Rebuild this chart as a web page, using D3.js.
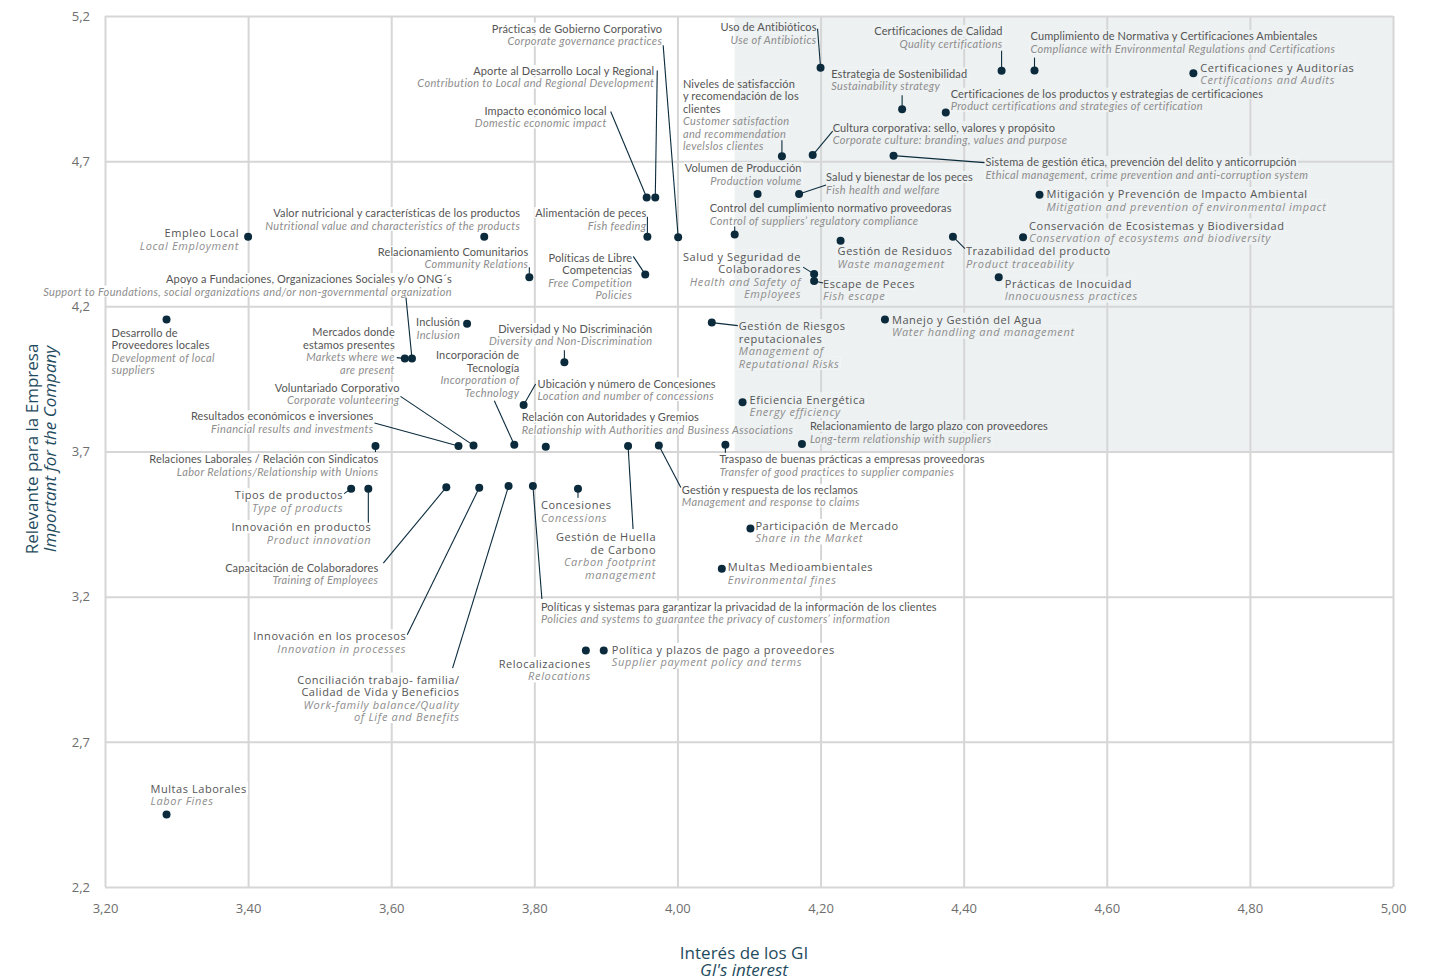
<!DOCTYPE html>
<html>
<head>
<meta charset="utf-8">
<script src="https://cdn.jsdelivr.net/npm/d3@7"></script>
<style>
  body { margin: 0; background: #fff; }
  svg text { font-family: "Open Sans", sans-serif; }
</style>
</head>
<body>
<div id="chart"></div>
<script>
// materiality topics (Spanish / English), interest of stakeholders (x), relevance for the company (y)
const topics = [
  "Empleo Local",
  "Desarrollo de\nProveedores locales",
  "Multas Laborales",
  "Valor nutricional y características de los productos",
  "Relacionamiento Comunitarios",
  "Apoyo a Fundaciones, Organizaciones Sociales y/o ONG´s",
  "Mercados donde\nestamos presentes",
  "Inclusión",
  "Diversidad y No Discriminación",
  "Incorporación de\nTecnología",
  "Ubicación y número de Concesiones",
  "Relación con Autoridades y Gremios",
  "Voluntariado Corporativo",
  "Resultados económicos e inversiones",
  "Relaciones Laborales / Relación con Sindicatos",
  "Tipos de productos",
  "Innovación en productos",
  "Capacitación de Colaboradores",
  "Innovación en los procesos",
  "Conciliación trabajo- familia/\nCalidad de Vida y Beneficios",
  "Políticas y sistemas para garantizar la privacidad de la información de los clientes",
  "Concesiones",
  "Gestión de Huella\nde Carbono",
  "Gestión y respuesta de los reclamos",
  "Traspaso de buenas prácticas a empresas proveedoras",
  "Relocalizaciones",
  "Política y plazos de pago a proveedores",
  "Multas Medioambientales",
  "Participación de Mercado",
  "Relacionamiento de largo plazo con proveedores",
  "Eficiencia Energética",
  "Gestión de Riesgos\nreputacionales",
  "Manejo y Gestión del Agua",
  "Salud y Seguridad de\nColaboradores",
  "Escape de Peces",
  "Gestión de Residuos",
  "Trazabilidad del producto",
  "Prácticas de Inocuidad",
  "Conservación de Ecosistemas y Biodiversidad",
  "Mitigación y Prevención de Impacto Ambiental",
  "Sistema de gestión ética, prevención del delito y anticorrupción",
  "Cultura corporativa: sello, valores y propósito",
  "Niveles de satisfacción\ny recomendación de los\nclientes",
  "Volumen de Producción",
  "Salud y bienestar de los peces",
  "Control del cumplimiento normativo proveedoras",
  "Uso de Antibióticos",
  "Certificaciones de Calidad",
  "Cumplimiento de Normativa y Certificaciones Ambientales",
  "Certificaciones y Auditorías",
  "Estrategia de Sostenibilidad",
  "Certificaciones de los productos y estrategias de certificaciones",
  "Prácticas de Gobierno Corporativo",
  "Aporte al Desarrollo Local y Regional",
  "Impacto económico local",
  "Alimentación de peces",
  "Políticas de Libre\nCompetencias"
];

const topicsEn = [
  "Local Employment",
  "Development of local\nsuppliers",
  "Labor Fines",
  "Nutritional value and characteristics of the products",
  "Community Relations",
  "Support to Foundations, social organizations and/or non-governmental organization",
  "Markets where we\nare present",
  "Inclusion",
  "Diversity and Non-Discrimination",
  "Incorporation of\nTechnology",
  "Location and number of concessions",
  "Relationship with Authorities and Business Associations",
  "Corporate volunteering",
  "Financial results and investments",
  "Labor Relations/Relationship with Unions",
  "Type of products",
  "Product innovation",
  "Training of Employees",
  "Innovation in processes",
  "Work-family balance/Quality\nof Life and Benefits",
  "Policies and systems to guarantee the privacy of customers’ information",
  "Concessions",
  "Carbon footprint\nmanagement",
  "Management and response to claims",
  "Transfer of good practices to supplier companies",
  "Relocations",
  "Supplier payment policy and terms",
  "Environmental fines",
  "Share in the Market",
  "Long-term relationship with suppliers",
  "Energy efficiency",
  "Management of\nReputational Risks",
  "Water handling and management",
  "Health and Safety of\nEmployees",
  "Fish escape",
  "Waste management",
  "Product traceability",
  "Innocuousness practices",
  "Conservation of ecosystems and biodiversity",
  "Mitigation and prevention of environmental impact",
  "Ethical management, crime prevention and anti-corruption system",
  "Corporate culture: branding, values and purpose",
  "Customer satisfaction\nand recommendation\nlevelslos clientes",
  "Production volume",
  "Fish health and welfare",
  "Control of suppliers’ regulatory compliance",
  "Use of Antibiotics",
  "Quality certifications",
  "Compliance with Environmental Regulations and Certifications",
  "Certifications and Audits",
  "Sustainability strategy",
  "Product certifications and strategies of certification",
  "Corporate governance practices",
  "Contribution to Local and Regional Development",
  "Domestic economic impact",
  "Fish feeding",
  "Free Competition\nPolicies"
];

const interest = [
  3.40, 3.286, 3.286, 3.73, 3.793, 3.629, 3.619, 3.706, 3.842, 3.772,
  3.785, 3.816, 3.715, 3.694, 3.578, 3.544, 3.568, 3.677, 3.723, 3.764,
  3.798, 3.861, 3.931, 3.974, 4.067, 3.872, 3.897, 4.062, 4.102, 4.174,
  4.091, 4.048, 4.29, 4.191, 4.191, 4.228, 4.385, 4.449, 4.483, 4.506,
  4.302, 4.189, 4.146, 4.112, 4.17, 4.08, 4.20, 4.453, 4.499, 4.721,
  4.314, 4.375, 4.001, 3.969, 3.957, 3.958, 3.955
];

const relevance = [
  4.44, 4.155, 2.45, 4.44, 4.30, 4.02, 4.02, 4.14, 4.007, 3.723,
  3.86, 3.716, 3.721, 3.719, 3.719, 3.572, 3.572, 3.577, 3.575, 3.581,
  3.581, 3.572, 3.719, 3.721, 3.723, 3.015, 3.015, 3.296, 3.435, 3.726,
  3.87, 4.144, 4.155, 4.311, 4.287, 4.426, 4.44, 4.30, 4.438, 4.584,
  4.719, 4.721, 4.717, 4.587, 4.587, 4.447, 5.022, 5.011, 5.012, 5.003,
  4.879, 4.868, 4.438, 4.575, 4.575, 4.44, 4.31
];

const xTicks = [3.2, 3.4, 3.6, 3.8, 4.0, 4.2, 4.4, 4.6, 4.8, 5.0];
const xTickLabels = ["3,20", "3,40", "3,60", "3,80", "4,00", "4,20", "4,40", "4,60", "4,80", "5,00"];
const yTicks = [2.2, 2.7, 3.2, 3.7, 4.2, 4.7, 5.2];
const yTickLabels = ["2,2", "2,7", "3,2", "3,7", "4,2", "4,7", "5,2"];

// priority quadrant (shaded): interest >= 4.08 and relevance >= 3.7
const priorityInterest = 4.08;
const priorityRelevance = 3.7;

// label placement relative to each dot: anchor, dx, dy, leader end, wide font
const labelLayout = [
  ["e", -9, -4, null, 1], ["s", -55, 13, null, 0], ["s", -16, -26, null, 1],
  ["e", 36, -24, null, 0], ["e", -1, -26, [0, -10], 0], ["e", 40, -80, [-6, -61], 0],
  ["e", -10, -27, [-8, -1], 0], ["e", -7, -2, null, 0], ["e", 88, -34, [0, -12], 0],
  ["e", 5, -90, [-20, -44], 0], ["s", 14, -22, [12, -21], 0], ["s", -24, -30, null, 0],
  ["e", -74, -58, [-73, -49], 0], ["e", -85, -30, [-84, -23], 0], ["e", 3, 13, [0, 6], 0],
  ["e", -8, 6, [-7, 5], 1], ["e", 3, 38, [0, 34], 1], ["e", -68, 80, [-63, 76], 0],
  ["e", -73, 148, [-72, 147], 1], ["e", -49, 193, [-56, 182], 1], ["s", 8, 120, [9, 113], 0],
  ["s", -37, 16, [0, 9], 1], ["e", 28, 91, [5, 83], 1], ["s", 23, 44, [22, 42], 0],
  ["s", -6, 14, [0, 8], 0], ["e", 5, 13, null, 1], ["s", 8, -1, null, 1],
  ["s", 6, -2, null, 1], ["s", 5, -3, null, 1], ["s", 8, -18, null, 0],
  ["s", 7, -3, null, 1], ["s", 27, 3, [26, 3], 1], ["s", 7, 0, null, 1],
  ["e", -13, -18, [-11, -7], 1], ["s", 9, 2, [9, 2], 1], ["s", -3, 10, null, 1],
  ["s", 13, 14, [12, 12], 1], ["s", 6, 6, null, 1], ["s", 6, -12, null, 1],
  ["s", 7, -1, null, 1], ["s", 92, 6, [91, 7], 0], ["s", 20, -28, [20, -24], 0],
  ["s", -99, -73, [0, -16], 0], ["e", 44, -26, null, 0], ["s", 27, -17, [27, -9], 0],
  ["s", -25, -27, [0, -8], 0], ["e", -4, -41, [-3, -39], 0], ["e", 1, -40, [0, -20], 0],
  ["s", -4, -35, [0, -13], 0], ["s", 7, -6, null, 1], ["s", -71, -36, [0, -14], 0],
  ["s", 5, -19, null, 0], ["e", -16, -209, [-15, -192], 0], ["e", -1, -127, [2, -127], 0],
  ["e", -40, -87, [-36, -86], 0], ["e", -1, -24, [0, -20], 0], ["e", -13, -17, [-12, -18], 0]
];

const width = 1437, height = 980;
const shade = "#edf1f2", gridColor = "#d6d6d6", dotColor = "#0b2b3d", titleColor = "#1f4b5e";
const lineH = 12.5;

const svg = d3.select("#chart").append("svg").attr("width", width).attr("height", height);

const x = d3.scaleLinear().domain([3.2, 5.0]).range([105, 1393]);
const y = d3.scaleLinear().domain([2.2, 5.2]).range([887, 16]);

// shaded quadrant
svg.append("rect")
  .attr("x", x(priorityInterest)).attr("y", y(5.2))
  .attr("width", x(5.0) - x(priorityInterest))
  .attr("height", y(priorityRelevance) - y(5.2))
  .attr("fill", shade);

svg.append("clipPath").attr("id", "prio")
  .append("rect")
  .attr("x", x(priorityInterest)).attr("y", y(5.2))
  .attr("width", x(5.0) - x(priorityInterest))
  .attr("height", y(priorityRelevance) - y(5.2));

// grid + tick labels
const gx = svg.append("g")
  .attr("transform", `translate(0,${y(2.2)})`)
  .call(d3.axisBottom(x).tickValues(xTicks).tickSize(-(y(2.2) - y(5.2))).tickPadding(17)
    .tickFormat((d, i) => xTickLabels[i]));
const gy = svg.append("g")
  .attr("transform", `translate(${x(3.2)},0)`)
  .call(d3.axisLeft(y).tickValues(yTicks).tickSize(-(x(5.0) - x(3.2))).tickPadding(15)
    .tickFormat((d, i) => yTickLabels[i]));
[gx, gy].forEach(g => {
  g.select(".domain").remove();
  g.selectAll("line").attr("stroke", gridColor).attr("stroke-width", 2);
  g.selectAll("text").attr("fill", "#6e6e6e").style("font-size", "13px")
    .style("font-family", "'Open Sans', sans-serif");
});

// axis titles
function title(tx, ty, rot, txt, italic) {
  svg.append("text").attr("transform", `translate(${tx},${ty}) rotate(${rot})`)
    .attr("text-anchor", "middle").attr("dominant-baseline", "central")
    .attr("fill", titleColor).style("font-size", "17px")
    .style("font-style", italic ? "italic" : "normal").text(txt);
}
title(31, 449, -90, "Relevante para la Empresa", false);
title(49, 449, -90, "Important for the Company", true);
title(744, 952, 0, "Interés de los GI", false);
title(744, 969, 0, "GI's interest", true);

const bgWhite = svg.append("g");
const bgShade = svg.append("g").attr("clip-path", "url(#prio)");
const leaders = svg.append("g");
const dots = svg.append("g");
const labels = svg.append("g");

const points = topics.map((t, i) => ({ es: t, en: topicsEn[i], gi: interest[i], rel: relevance[i], lay: labelLayout[i] }));

points.forEach(p => {
  const px = x(p.gi), py = y(p.rel);
  const [anchor, dx, dy, leader, wide] = p.lay;

  if (leader) {
    leaders.append("line")
      .attr("x1", px).attr("y1", py)
      .attr("x2", px + leader[0]).attr("y2", py + leader[1])
      .attr("stroke", dotColor).attr("stroke-width", 1.1);
  }

  const lines = p.es.split("\n").map(s => ({ s, it: false }))
    .concat(p.en.split("\n").map(s => ({ s, it: true })));

  lines.forEach((l, k) => {
    const t = labels.append("text")
      .attr("x", px + dx).attr("y", py + dy + k * lineH)
      .attr("text-anchor", anchor === "e" ? "end" : "start")
      .attr("dominant-baseline", "central")
      .attr("fill", l.it ? "#8d8d8d" : "#555")
      .style("font-family", wide ? "'Open Sans', sans-serif" : "Lato, sans-serif")
      .style("font-size", "11px")
      .style("letter-spacing", wide ? (l.it ? "0.65px" : "0.55px") : (l.it ? "0.35px" : "0.12px"))
      .style("font-style", l.it ? "italic" : "normal")
      .text(l.s);
    const b = t.node().getBBox();
    bgWhite.append("rect").attr("x", b.x - 1).attr("y", b.y + 1)
      .attr("width", b.width + 2).attr("height", b.height - 2).attr("fill", "#fff");
    bgShade.append("rect").attr("x", b.x - 1).attr("y", b.y + 1)
      .attr("width", b.width + 2).attr("height", b.height - 2).attr("fill", shade);
  });

  dots.append("circle").attr("cx", px).attr("cy", py).attr("r", 4).attr("fill", dotColor);
});
</script>
</body>
</html>
